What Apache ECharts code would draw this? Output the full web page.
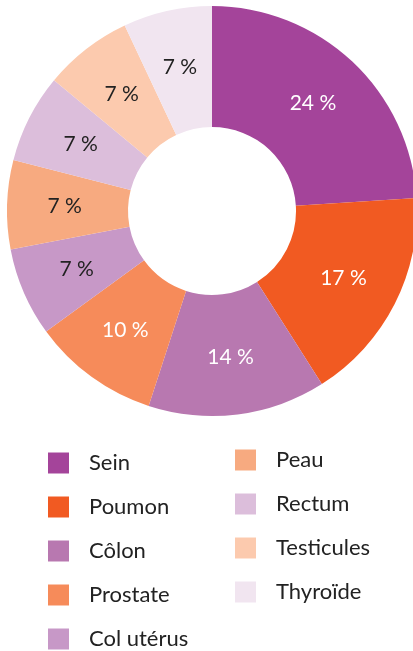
<!DOCTYPE html>
<html>
<head>
<meta charset="utf-8">
<script src="https://cdn.jsdelivr.net/npm/echarts@6/dist/echarts.min.js"></script>
<style>
  html, body { margin: 0; padding: 0; background: #fff; }
  #chart { width: 413px; height: 651px; }
</style>
</head>
<body>
<div id="chart"></div>
<script>
var categories = ['Sein', 'Poumon', 'Côlon', 'Prostate', 'Col utérus', 'Peau', 'Rectum', 'Testicules', 'Thyroïde'];
var values = [24, 17, 14, 10, 7, 7, 7, 7, 7];
var colors = ['#a4449a', '#f15a22', '#b878b0', '#f68b5a', '#c798c7', '#f7aa80', '#dcbedb', '#fccaae', '#f1e5f0'];
var labelColors = ['#fff', '#fff', '#fff', '#fff', '#222', '#222', '#222', '#222', '#222'];

var myChart = echarts.init(document.getElementById('chart'));

var pieData = categories.map(function (name, i) {
    return {
        name: name,
        value: values[i],
        itemStyle: { color: colors[i] },
        label: { color: labelColors[i] }
    };
});

var legendText = {
    fontFamily: 'Lato',
    fontSize: 22,
    lineHeight: 21,
    color: '#222',
    padding: [0, 0, 0, 15]
};

// legend blocks: [left, top, items]
var legendBlocks = [
    [48, 452, categories.slice(0, 4)],
    [48, 628, categories.slice(4, 5)],
    [235, 449, categories.slice(5)]
];

var option = {
    animation: false,
    legend: legendBlocks.map(function (b) {
        return {
            orient: 'vertical',
            left: b[0],
            top: b[1],
            padding: 0,
            itemWidth: 21,
            itemHeight: 21,
            itemGap: 22,
            icon: 'rect',
            selectedMode: false,
            textStyle: legendText,
            data: b[2]
        };
    }),
    series: [{
        type: 'pie',
        center: [212, 211],
        radius: [84, 205],
        startAngle: 90,
        clockwise: true,
        label: {
            show: true,
            position: 'inside',
            fontFamily: 'Lato',
            fontSize: 21,
            formatter: '{c} %'
        },
        labelLine: { show: false },
        emphasis: { disabled: true },
        data: pieData
    }]
};

myChart.setOption(option);
</script>
</body>
</html>
